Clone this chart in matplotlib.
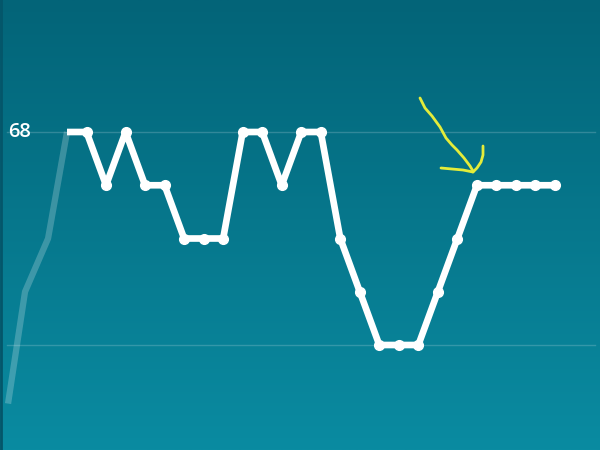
import matplotlib
matplotlib.use("Agg")
import matplotlib.pyplot as plt
import numpy as np
from matplotlib.colors import LinearSegmentedColormap

# data
heart_rate = [68, 68, 67, 68, 67, 67, 66, 66, 66, 68, 68, 67, 68, 68, 66, 65,
              64, 64, 64, 65, 66, 67, 67, 67, 67, 67]
ghost_x = [-3.02, -2.15, -0.97, 0.0]
ghost_y = [62.9, 65.0, 66.0, 68.0]
grid_values = [68, 64]
label_value = "68"

W, H = 600, 450
fig = plt.figure(figsize=(6, 4.5), dpi=100)

# background gradient
bg = fig.add_axes([0, 0, 1, 1])
cmap = LinearSegmentedColormap.from_list("bg", ["#036478", "#0a8ba1"])
grad = np.linspace(0, 1, 256).reshape(-1, 1)
bg.imshow(grad, aspect="auto", cmap=cmap, extent=[0, 1, 0, 1], origin="upper")
bg.set_xlim(0, 1)
bg.set_ylim(0, 1)
bg.set_axis_off()
bg.axvline(0.002, color="#04566a", lw=2)

ax = fig.add_axes([0, 0, 1, 1], facecolor="none")
x = np.arange(len(heart_rate))
ax.set_xlim(-67 / 19.52, (600 - 67) / 19.52)
ax.set_ylim(68 - 318 / 53.25, 68 + 132 / 53.25)
ax.set_axis_off()

x0 = ax.get_xlim()[0]
x1 = ax.get_xlim()[1]
for g in grid_values:
    ax.plot([x0 + 7 / 19.52, x1 - 5 / 19.52], [g, g], color="white", alpha=0.18, lw=1, zorder=1)

ax.plot(ghost_x, ghost_y, color="white", alpha=0.22, lw=4.5, solid_capstyle="butt", zorder=2)
ax.plot(x, heart_rate, color="white", lw=4.8, solid_joinstyle="round",
        solid_capstyle="butt", marker="o", markersize=7, markevery=list(range(1, len(x))), zorder=3)

# overlay in pixel coords for label and annotation
ov = fig.add_axes([0, 0, 1, 1], facecolor="none")
ov.set_xlim(0, W)
ov.set_ylim(H, 0)
ov.set_axis_off()
ov.text(8, 132, label_value, color="white", fontsize=14.5, family="Open Sans",
        va="center", ha="left", fontweight="semibold")

yel = "#e4ec3a"
ov.plot([420, 425, 432, 440, 446, 452, 457, 464, 470, 473],
        [98, 108, 116, 127, 138, 145, 150, 158, 166, 171], color=yel, lw=2.0, solid_capstyle="round",
        solid_joinstyle="round")
ov.plot([441, 452, 463, 473], [168, 169, 170, 172], color=yel, lw=2.0, solid_capstyle="round")
ov.plot([483, 483, 481, 477, 473], [146, 155, 162, 168, 172], color=yel, lw=2.0, solid_capstyle="round")

fig.savefig("out.png", dpi=100)
